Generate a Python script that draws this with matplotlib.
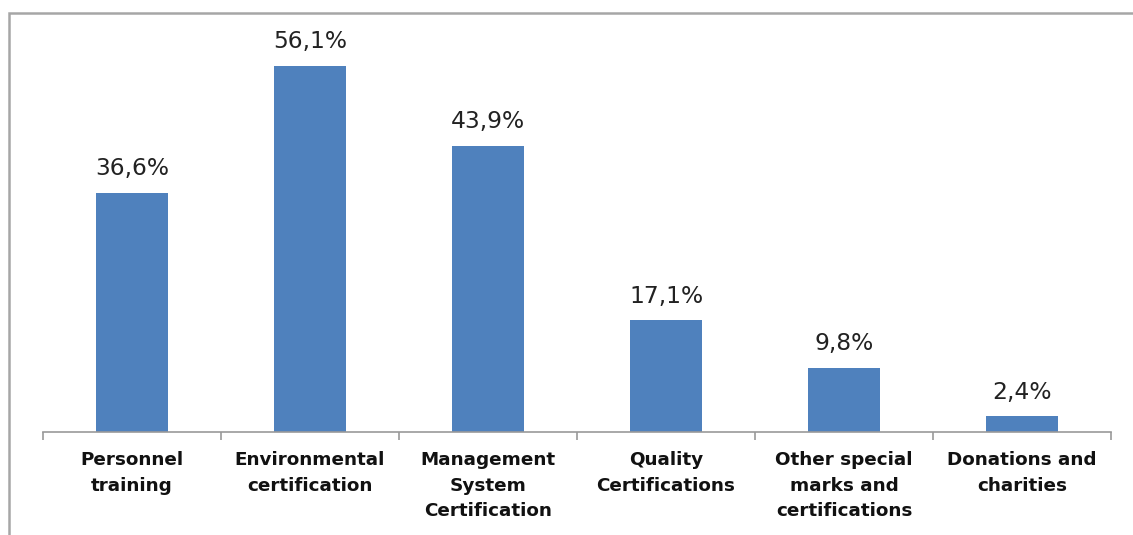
import matplotlib
matplotlib.use("Agg")
import matplotlib.pyplot as plt
from matplotlib.patches import Rectangle

categories = [
    "Personnel\ntraining",
    "Environmental\ncertification",
    "Management\nSystem\nCertification",
    "Quality\nCertifications",
    "Other special\nmarks and\ncertifications",
    "Donations and\ncharities",
]
values = [36.6, 56.1, 43.9, 17.1, 9.8, 2.4]
value_labels = ["36,6%", "56,1%", "43,9%", "17,1%", "9,8%", "2,4%"]

bar_color = "#4F81BD"

W, H = 1133, 535
fig = plt.figure(figsize=(W / 100, H / 100), dpi=100)
fig.patch.set_facecolor("white")

# outer chart frame
fig.add_artist(Rectangle((9 / W, -0.05), (W + 20 - 9) / W, (H - 13) / H + 0.05,
                         transform=fig.transFigure, fill=False,
                         edgecolor="#A6A6A6", linewidth=1.8))

ax_left, ax_right = 43 / W, 1111 / W
ax_bottom = (H - 432) / H
ax_top = (H - 20) / H
ax = fig.add_axes([ax_left, ax_bottom, ax_right - ax_left, ax_top - ax_bottom])

x = list(range(len(categories)))
ax.bar(x, values, width=0.4, color=bar_color, zorder=2)
ax.set_xlim(-0.5, len(categories) - 0.5)
px_per_unit = (432 - 66) / 56.1
ax.set_ylim(0, (432 - 20) / px_per_unit)

for xi, v, lab in zip(x, values, value_labels):
    ax.annotate(lab, (xi, v), xytext=(0, 17.5), textcoords="offset points",
                ha="center", va="center", fontsize=16.8, color="#222222",
                family=["DejaVu Sans"])

for s in ["top", "right", "left"]:
    ax.spines[s].set_visible(False)
ax.spines["bottom"].set_color("#999999")
ax.spines["bottom"].set_linewidth(1.2)
ax.set_yticks([])

# category tick marks at boundaries
ax.set_xticks([i - 0.5 for i in range(len(categories) + 1)])
ax.set_xticklabels([])
ax.tick_params(axis="x", which="major", length=6, width=1.2, color="#999999",
               direction="out")
for xi, cat in zip(x, categories):
    ax.text(xi, -19 / px_per_unit, cat, ha="center", va="top", fontsize=13.2,
            fontweight="bold", color="#111111", linespacing=1.55,
            family=["DejaVu Sans"], transform=ax.transData)

fig.savefig("out.png", dpi=100, facecolor="white")
